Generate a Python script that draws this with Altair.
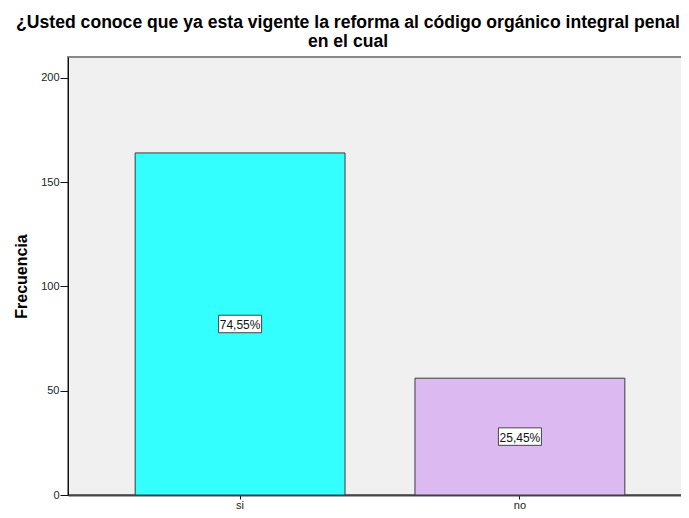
import altair as alt
import pandas as pd

categories = ["si", "no"]
counts = [164, 56]
colors = ["#33FFFF", "#DDB9F2"]
title_lines = ["¿Usted conoce que ya esta vigente la reforma al código orgánico integral penal", "en el cual"]
y_ticks = [0, 50, 100, 150, 200]

total = sum(counts)
labels = [f"{c / total * 100:.2f}".replace(".", ",") + "%" for c in counts]
df = pd.DataFrame({"cat": categories, "count": counts, "label": labels})

FONT = "Liberation Sans, Arial, sans-serif"

x_enc = alt.X(
    "cat:N",
    sort=categories,
    scale=alt.Scale(paddingInner=0.25, paddingOuter=0.24),
    axis=alt.Axis(
        title=None, labelAngle=0, labelFontSize=11, labelColor="#222", labelFont=FONT,
        tickSize=4, tickColor="#111", domainColor="#444", domainWidth=2, labelPadding=0,
    ),
)
y_scale = alt.Scale(domain=[0, 210], nice=False)

bars = alt.Chart(df).mark_bar(stroke="#3c3c3c", strokeWidth=1).encode(
    x=x_enc,
    y=alt.Y(
        "count:Q",
        scale=y_scale,
        axis=alt.Axis(
            title="Frecuencia", values=y_ticks, grid=False, labelFontSize=11, labelColor="#222",
            labelFont=FONT, tickSize=8, tickColor="#111", domainColor="#111", domainWidth=1,
            labelPadding=1, titleFont=FONT, titleFontSize=16, titleFontWeight="bold",
            titleColor="#000", titleAngle=270, titleX=-47, titleY=219, titleAlign="center",
            titleBaseline="middle",
        ),
    ),
    color=alt.Color("cat:N", scale=alt.Scale(domain=categories, range=colors), legend=None),
)

box_path = "M-1,-0.407L1,-0.407L1,0.407L-1,0.407Z"
base = alt.Chart(df).transform_calculate(mid="datum['count'] / 2")

boxes = base.mark_point(
    shape=box_path, size=1849, filled=True, fill="white", stroke="#444",
    strokeWidth=1, opacity=1, fillOpacity=1, strokeOpacity=1,
).encode(x=alt.X("cat:N", sort=categories), y=alt.Y("mid:Q", scale=y_scale))

texts = base.mark_text(font=FONT, fontSize=12, color="#111", baseline="middle", align="center", dy=1).encode(
    x=alt.X("cat:N", sort=categories), y=alt.Y("mid:Q", scale=y_scale), text="label:N"
)

chart = (
    alt.layer(bars, boxes, texts)
    .properties(
        width=624,
        height=438,
        autosize=alt.AutoSizeParams(type="none"),
        padding={"left": 60, "top": 49, "right": -11, "bottom": 15},
        title=alt.TitleParams(
            text=title_lines, font=FONT, fontSize=17.6, fontWeight="bold", color="#000",
            lineHeight=19, anchor="middle", frame="group", dx=-32, offset=6,
        ),
        background="white",
    )
    .configure_view(fill="#F0F0F0", stroke="#888888", strokeWidth=2)
)

chart.save("out.html", embed_options={"renderer": "svg", "actions": False})
